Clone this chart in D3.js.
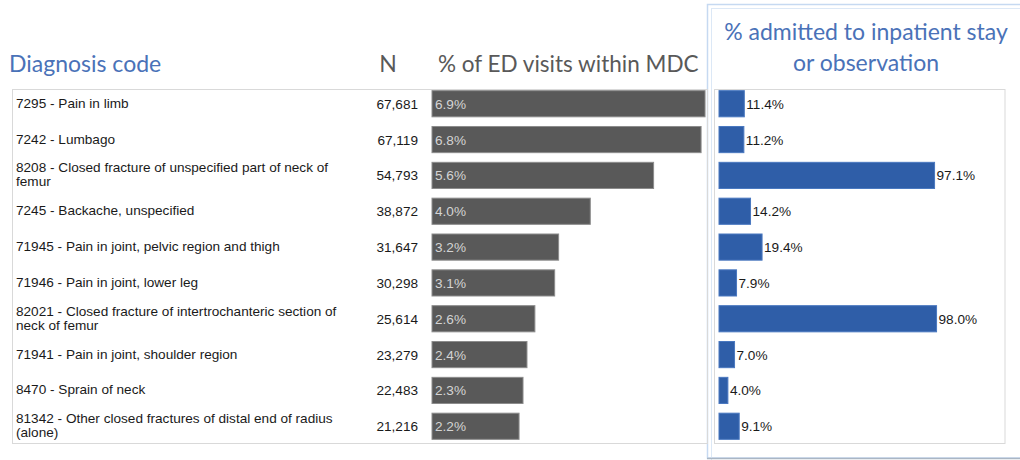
<!DOCTYPE html>
<html lang="en">
<head>
<meta charset="utf-8">
<title>Top diagnosis codes: ED visits and admissions</title>
<script src="https://cdnjs.cloudflare.com/ajax/libs/d3/7.8.5/d3.min.js"></script>
<style>
  body { margin: 0; background: #fff; }
  .hdr { font-family: Lato, 'Open Sans', sans-serif; font-size: 23px; }
  .cell { font-family: 'Liberation Sans', Arial, sans-serif; font-size: 13.6px; }
</style>
</head>
<body>
<script>
var codes = ["7295", "7242", "8208", "7245", "71945", "71946", "82021", "71941", "8470", "81342"];
var labels = [
  ["7295 - Pain in limb"],
  ["7242 - Lumbago"],
  ["8208 - Closed fracture of unspecified part of neck of", "femur"],
  ["7245 - Backache, unspecified"],
  ["71945 - Pain in joint, pelvic region and thigh"],
  ["71946 - Pain in joint, lower leg"],
  ["82021 - Closed fracture of intertrochanteric section of", "neck of femur"],
  ["71941 - Pain in joint, shoulder region"],
  ["8470 - Sprain of neck"],
  ["81342 - Other closed fractures of distal end of radius", "(alone)"]
];
var nVisits = [67681, 67119, 54793, 38872, 31647, 30298, 25614, 23279, 22483, 21216];
var pctED = [6.9, 6.8, 5.6, 4.0, 3.2, 3.1, 2.6, 2.4, 2.3, 2.2];
var pctAdmit = [11.4, 11.2, 97.1, 14.2, 19.4, 7.9, 98.0, 7.0, 4.0, 9.1];

var w = 1020, h = 460;
var fmtN = d3.format(",");
var fmtP = function(v) { return v.toFixed(1) + "%"; };

var rows = codes.map(function(c, i) {
  return { code: c, label: labels[i], n: nVisits[i], ed: pctED[i], adm: pctAdmit[i] };
});

var svg = d3.select("body").append("svg")
  .attr("width", w)
  .attr("height", h);

var y = d3.scaleBand()
  .domain(codes)
  .range([86, 444])
  .paddingInner(0.27)
  .paddingOuter(0.13);

var xEd = d3.scaleLinear().domain([0, 7]).range([432, 709]);
var xAd = d3.scaleLinear().domain([0, 100]).range([719, 941]);

// highlight frame round the admission column
svg.append("rect")
  .attr("x", 707.5).attr("y", 4.5)
  .attr("width", 330).attr("height", 453.5)
  .style("fill", "none").style("stroke", "#c6d9f1").style("stroke-width", 1.5);
svg.append("rect")
  .attr("x", 711.5).attr("y", 8.5)
  .attr("width", 330).attr("height", 460)
  .style("fill", "none").style("stroke", "#dce8f6").style("stroke-width", 1);
svg.append("line")
  .attr("x1", 707).attr("x2", 1020).attr("y1", 458.5).attr("y2", 458.5)
  .style("stroke", "#aab6c4").style("stroke-width", 1.5);

// table boxes
svg.append("rect")
  .attr("x", 12.5).attr("y", 89.5).attr("width", 695).attr("height", 354)
  .style("fill", "none").style("stroke", "#d9d9d9");
svg.append("rect")
  .attr("x", 714.5).attr("y", 89.5).attr("width", 290.5).attr("height", 354)
  .style("fill", "none").style("stroke", "#d9d9d9");

// headers
svg.append("text").attr("class", "hdr")
  .attr("x", 9).attr("y", 72)
  .style("fill", "#4a72b8")
  .text("Diagnosis code");
svg.append("text").attr("class", "hdr")
  .attr("x", 388).attr("y", 72).attr("text-anchor", "middle")
  .style("fill", "#595959")
  .text("N");
svg.append("text").attr("class", "hdr")
  .attr("x", 438).attr("y", 72)
  .style("fill", "#595959").style("font-size", "22.5px")
  .text("% of ED visits within MDC");
svg.append("text").attr("class", "hdr")
  .attr("x", 866).attr("y", 40).attr("text-anchor", "middle")
  .style("fill", "#4a72b8")
  .text("% admitted to inpatient stay");
svg.append("text").attr("class", "hdr")
  .attr("x", 866).attr("y", 71).attr("text-anchor", "middle")
  .style("fill", "#4a72b8")
  .text("or observation");

var row = svg.selectAll("g.row")
  .data(rows)
  .enter()
  .append("g")
  .attr("class", "row cell");

// diagnosis labels (one or two lines)
row.append("text")
  .attr("x", 16)
  .attr("y", function(d) {
    var mid = y(d.code) + y.bandwidth() / 2;
    return d.label.length > 1 ? mid - 3 : mid + 4;
  })
  .style("fill", "#1a1a1a")
  .selectAll("tspan")
  .data(function(d) { return d.label; })
  .enter()
  .append("tspan")
  .attr("x", 16)
  .attr("dy", function(d, i) { return i === 0 ? 0 : 14; })
  .text(function(d) { return d; });

// N
row.append("text")
  .attr("x", 418)
  .attr("y", function(d) { return y(d.code) + y.bandwidth() / 2 + 5; })
  .attr("text-anchor", "end")
  .style("fill", "#1a1a1a")
  .text(function(d) { return fmtN(d.n); });

// % of ED visits bars
row.append("rect")
  .attr("x", xEd(0))
  .attr("y", function(d) { return y(d.code); })
  .attr("width", function(d) { return xEd(d.ed) - xEd(0); })
  .attr("height", y.bandwidth())
  .style("fill", "#595959")
  .style("stroke", "#8c8c8c")
  .style("stroke-width", 1);
row.append("text")
  .attr("x", xEd(0) + 3)
  .attr("y", function(d) { return y(d.code) + y.bandwidth() / 2 + 5; })
  .style("fill", "#d4d4d4")
  .text(function(d) { return fmtP(d.ed); });

// % admitted bars
row.append("rect")
  .attr("x", xAd(0))
  .attr("y", function(d) { return y(d.code); })
  .attr("width", function(d) { return xAd(d.adm) - xAd(0); })
  .attr("height", y.bandwidth())
  .style("fill", "#2f5ea8")
  .style("stroke", "#4a78c0")
  .style("stroke-width", 1);
row.append("text")
  .attr("x", function(d) { return xAd(d.adm) + 2; })
  .attr("y", function(d) { return y(d.code) + y.bandwidth() / 2 + 5; })
  .style("fill", "#1a1a1a")
  .text(function(d) { return fmtP(d.adm); });
</script>
</body>
</html>
